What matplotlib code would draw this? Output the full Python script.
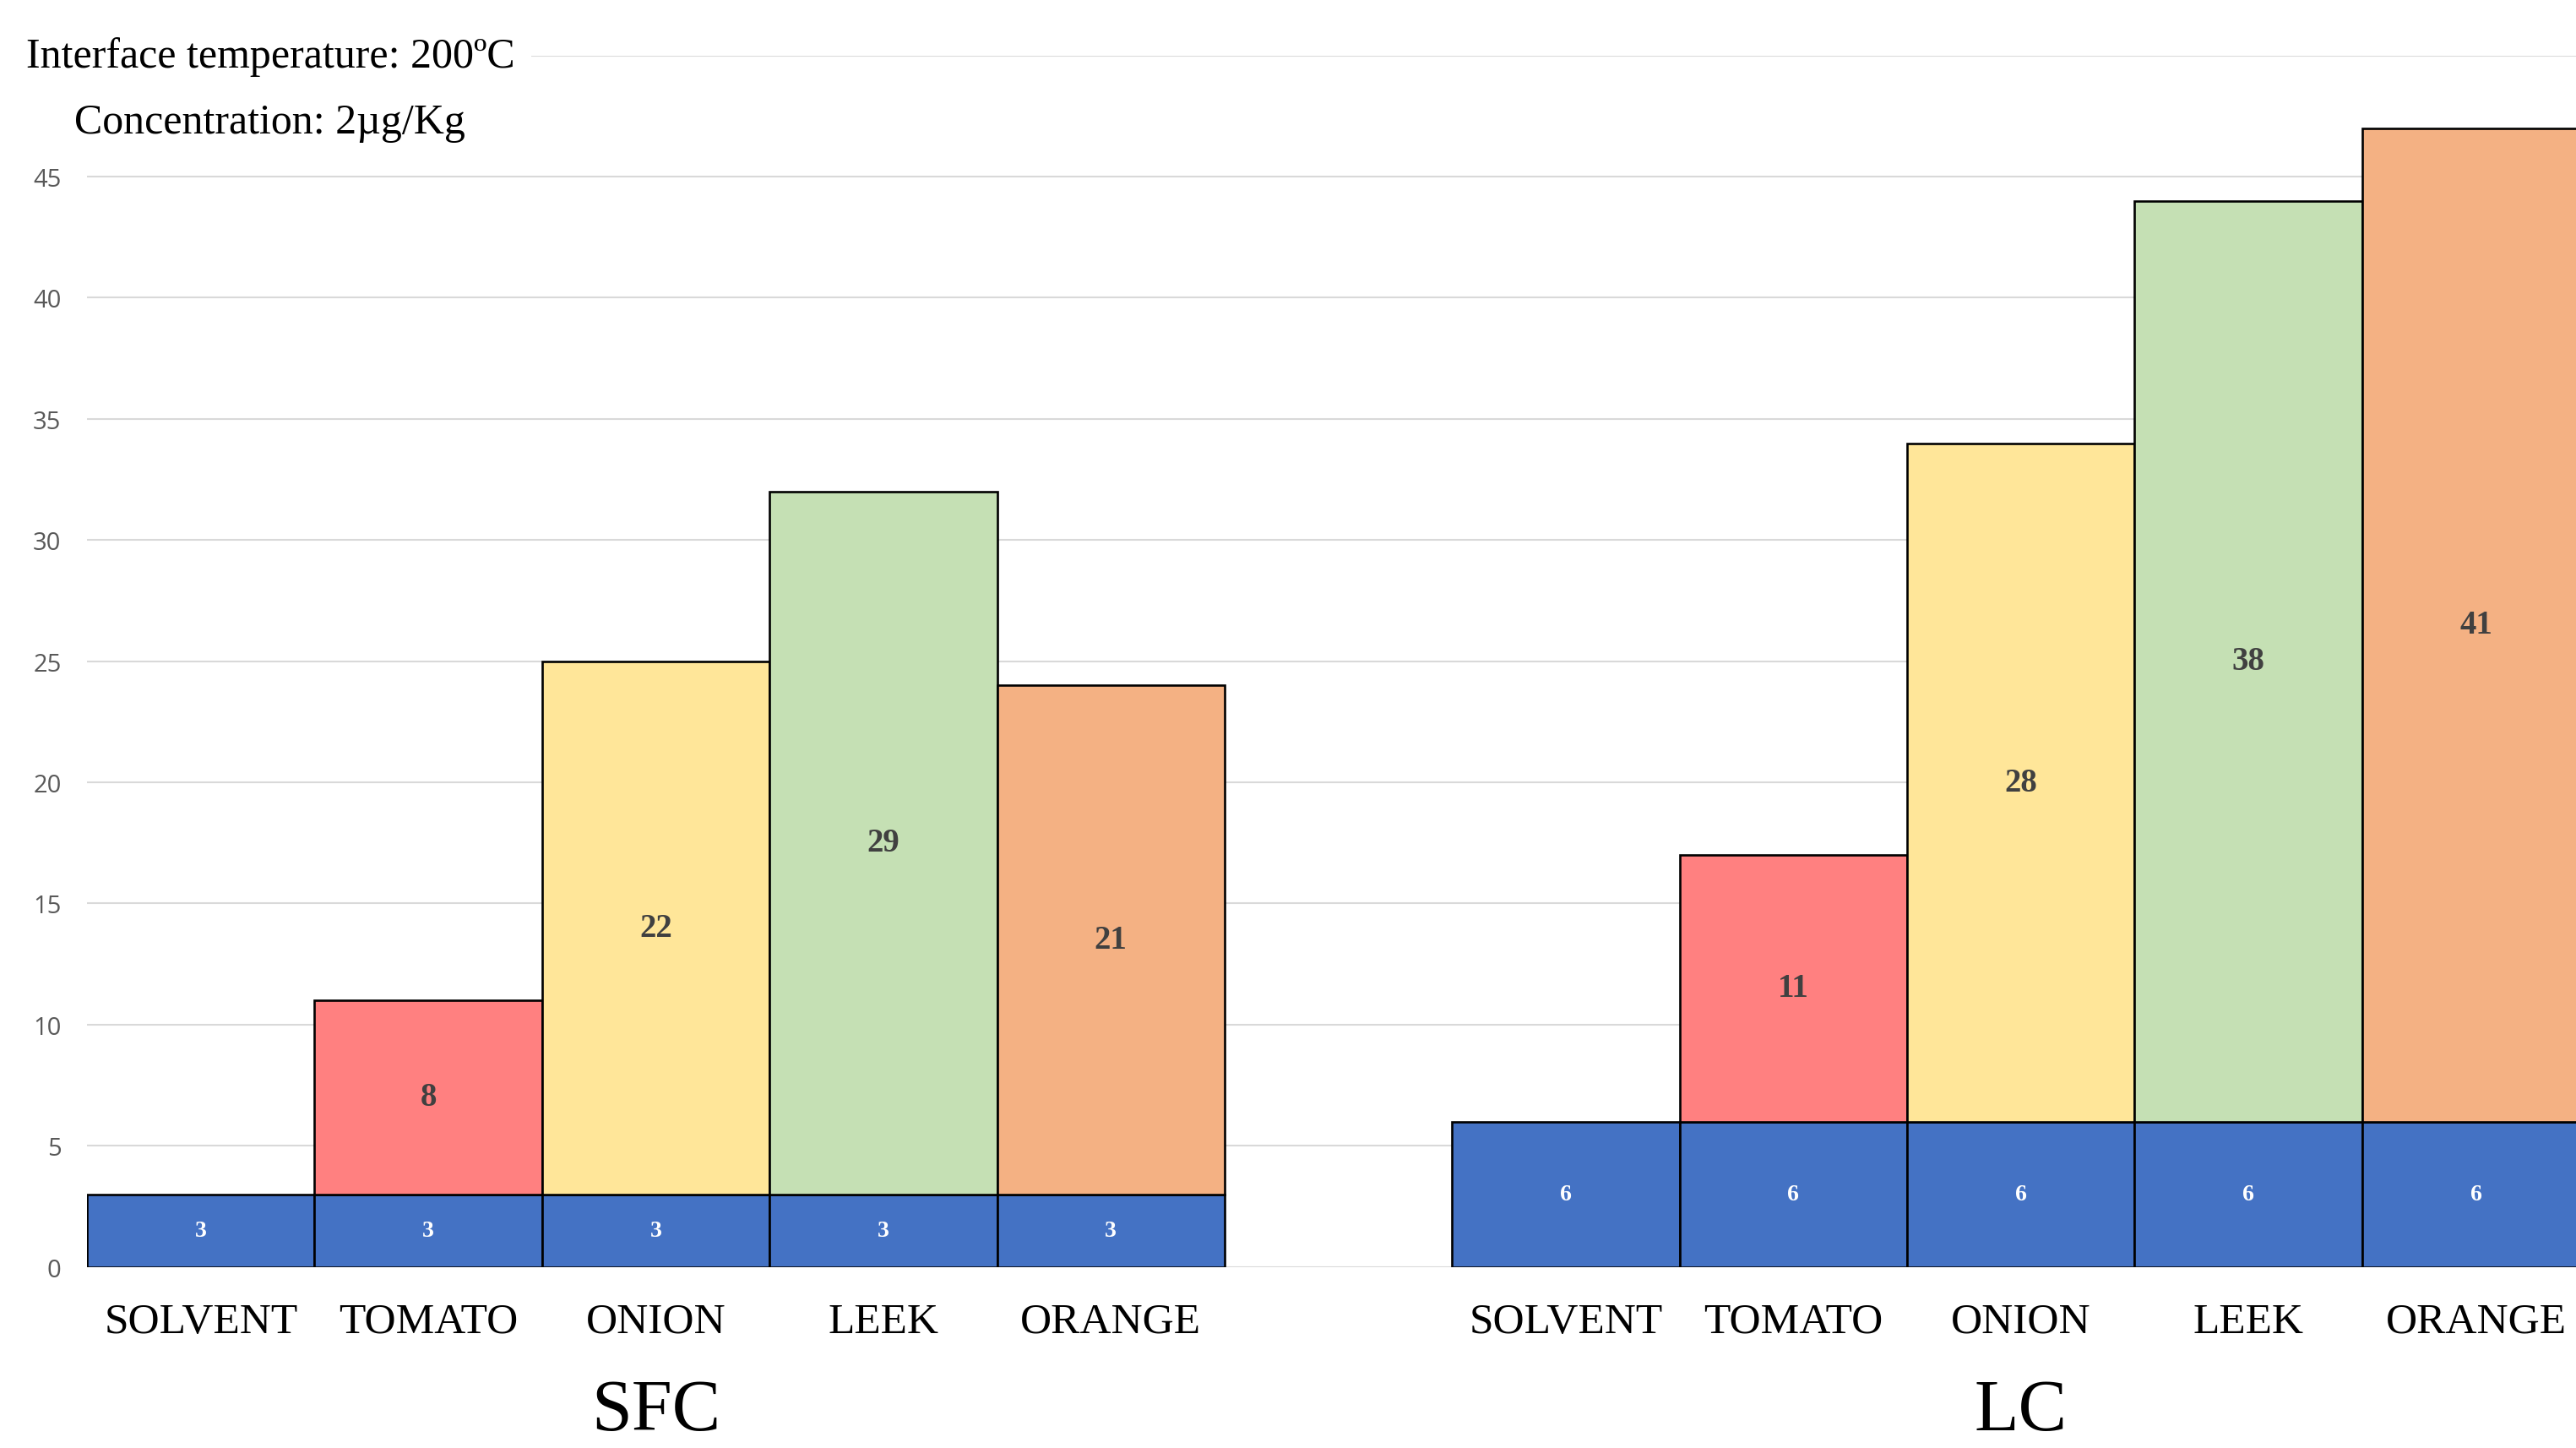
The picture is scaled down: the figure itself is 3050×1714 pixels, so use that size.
import matplotlib
matplotlib.use("Agg")
from matplotlib import pyplot as plt
import numpy as np

# data
groups = ["SFC", "LC"]
foods = ["SOLVENT", "TOMATO", "ONION", "LEEK", "ORANGE"]
sfc_base = [3, 3, 3, 3, 3]
sfc_top = [0, 8, 22, 29, 21]
lc_base = [6, 6, 6, 6, 6]
lc_top = [0, 11, 28, 38, 41]
yticks = [0, 5, 10, 15, 20, 25, 30, 35, 40, 45, 50]
ytick_labels = ["0", "5", "10", "15", "20", "25", "30", "35", "40", "45", ""]

base_color = "#4472C4"
top_colors = ["#FF8080", "#FF8080", "#FFE699", "#C5E0B4", "#F4B183"]
serif = "Liberation Serif"

fig = plt.figure(figsize=(30.5, 17.15), dpi=100)
ax = fig.add_axes([0.0338, 0.1250, 1 - 0.0338, 0.8361])

n = len(foods)
x_sfc = np.arange(n)
x_lc = np.arange(n) + n + 1
xs = np.concatenate([x_sfc, x_lc])
bases = sfc_base + lc_base
tops = sfc_top + lc_top

ax.bar(xs, bases, width=1.0, color=base_color, edgecolor="black", linewidth=1.9, zorder=3)
for i, (x, b, t) in enumerate(zip(xs, bases, tops)):
    ax.text(x, b / 2, str(b), ha="center", va="center", color="white",
            fontsize=20, fontweight="bold", family=serif, zorder=5)
    if t > 0:
        ax.bar(x, t, bottom=b, width=1.0, color=top_colors[i % n],
               edgecolor="black", linewidth=1.9, zorder=3)
        ax.text(x, b + t / 2, str(t), ha="center", va="center", color="#404040",
                fontsize=28, fontweight="bold", family=serif, zorder=5)

ax.set_xlim(-0.5, 10.44)
ax.set_ylim(0, 50)
ax.set_yticks(yticks)
ax.set_yticklabels(ytick_labels, fontsize=21, color="#595959", family="Open Sans")
ax.set_xticks(xs)
ax.set_xticklabels(foods + foods, fontsize=37, family=serif)
ax.tick_params(axis="both", length=0)
ax.tick_params(axis="y", pad=22)
ax.tick_params(axis="x", pad=30)
ax.grid(axis="y", color="#D9D9D9", linewidth=1.5, zorder=0)
ax.set_axisbelow(True)
for s in ax.spines.values():
    s.set_visible(False)

# group labels under the food names
for g, xc in zip(groups, [x_sfc.mean(), x_lc.mean()]):
    ax.annotate(g, xy=(xc, 0.002), xycoords=("data", "figure fraction"),
                ha="center", va="bottom", fontsize=62, family=serif)

fig.text(0.0102, 0.9605, "Interface temperature: 200ºC", fontsize=36, family=serif,
         va="center", ha="left", zorder=10,
         bbox=dict(facecolor="white", edgecolor="none", pad=14))
fig.text(0.0287, 0.9150, "Concentration: 2µg/Kg", fontsize=36, family=serif,
         va="center", ha="left", zorder=10,
         bbox=dict(facecolor="white", edgecolor="none", pad=6))

fig.savefig("out.png", dpi=100)
